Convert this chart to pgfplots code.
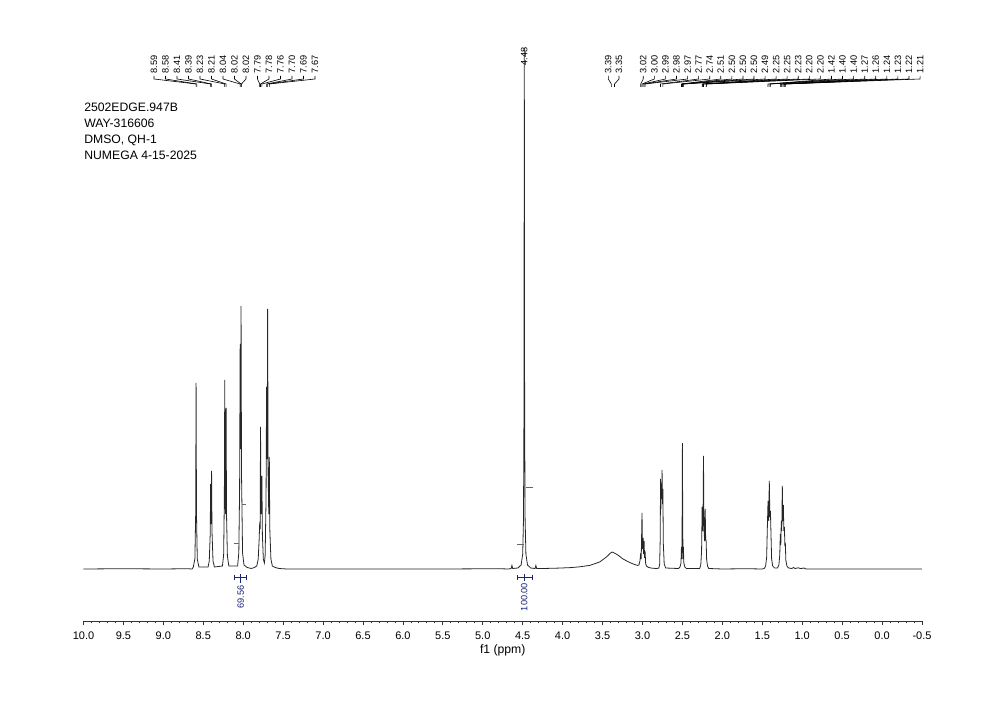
\documentclass[border=0pt]{standalone}
\usepackage{fontspec}
\setmainfont{Liberation Sans}
\usepackage{pgfplots}
\pgfplotsset{compat=1.18}
\definecolor{intblue}{RGB}{25,35,115}
\newcommand\lab{\fontsize{4.6}{5}\selectfont}
\newcommand\hdr{\fontsize{6.1}{7}\selectfont}
% label position (ppm), target peak (ppm), text
\newcommand{\plab}[3]{%
  \node[rotate=90,anchor=west,inner sep=0pt,font=\lab] at (axis cs:#1,495) {#3};
  \draw[black,line width=0.3pt] (axis cs:#1,493) -- (axis cs:#1,490) -- (axis cs:#2,485) -- (axis cs:#2,482);
}
\begin{document}
\begin{tikzpicture}
\begin{axis}[
  scale only axis, width=419.25pt, height=291pt,
  xmin=-0.5, xmax=10, x dir=reverse, ymin=-52, ymax=530,
  axis x line*=bottom, hide y axis,
  xtick={-0.5,0,0.5,1,1.5,2,2.5,3,3.5,4,4.5,5,5.5,6,6.5,7,7.5,8,8.5,9,9.5,10},
  minor x tick num=4, tick align=outside,
  major tick length=2pt, minor tick length=1pt,
  axis line style={black!80,line width=0.4pt},
  tick style={black!80,line width=0.4pt},
  xticklabel style={font=\fontsize{5.5}{6}\selectfont,
    /pgf/number format/fixed, /pgf/number format/fixed zerofill,
    /pgf/number format/precision=1, /pgf/number format/assume math mode=true},
  xlabel={f1 (ppm)},
  xlabel style={font=\fontsize{6.1}{7}\selectfont, at={(axis description cs:0.5,0)}, anchor=center, yshift=-14.5pt},
  clip=false,
]
\addplot[black!85, line width=0.4pt] coordinates {
(10.0,0) (9.5,0.3) (9.0,0) (8.70,0.3) (8.64,0)
(8.625,2) (8.605,10) (8.595,55) (8.590,186) (8.585,55) (8.575,10) (8.555,2)
(8.44,2) (8.425,8) (8.413,35) (8.408,85) (8.403,45) (8.396,98) (8.391,38) (8.378,8) (8.36,2)
(8.26,3) (8.245,14) (8.236,70) (8.231,189) (8.226,65) (8.220,55) (8.214,161) (8.209,55) (8.198,13) (8.18,3)
(8.07,3) (8.055,16) (8.045,80) (8.038,225) (8.033,120) (8.027,263) (8.021,95) (8.008,16) (7.99,4)
(7.95,1.5) (7.90,0.5) (7.86,1.5)
(7.83,3) (7.812,10) (7.800,30) (7.793,47) (7.788,40) (7.783,142) (7.778,60) (7.772,55) (7.766,93) (7.760,35) (7.748,10) (7.735,6)
(7.725,14) (7.714,70) (7.707,182) (7.700,110) (7.694,260) (7.688,95) (7.680,55) (7.673,112) (7.667,40) (7.653,10) (7.635,3) (7.60,1.5) (7.55,0.5) (7.45,0)
(6.5,0) (5.5,0) (4.8,0.3) (4.68,0)
(4.645,0.5) (4.635,3.5) (4.625,0.5)
(4.56,1) (4.52,4) (4.50,15) (4.490,50) (4.484,160) (4.480,521) (4.476,160) (4.470,50) (4.46,15) (4.44,4) (4.40,1)
(4.345,0.5) (4.335,3.5) (4.325,0.5)
(4.20,0.6) (4.05,0.9) (3.90,1.4) (3.786,2.2) (3.661,3.6) (3.536,7) (3.452,12) (3.40,16) (3.38,17) (3.34,15.5) (3.30,13.5) (3.244,10) (3.160,6.5) (3.10,4.5) (3.06,3.6)
(3.045,4) (3.032,8) (3.022,16) (3.016,10) (3.006,56) (3.000,20) (2.992,31) (2.986,15) (2.980,28) (2.974,11) (2.968,18) (2.960,5) (2.945,2.5) (2.92,1.5) (2.88,0.8) (2.82,0.5)
(2.795,1) (2.785,5) (2.778,30) (2.774,90) (2.769,60) (2.764,85) (2.760,70) (2.755,99) (2.750,65) (2.745,80) (2.739,25) (2.728,5) (2.71,1)
(2.55,0.5) (2.53,2) (2.518,6) (2.512,22) (2.508,10) (2.504,40) (2.500,126) (2.496,40) (2.492,10) (2.488,22) (2.482,6) (2.47,2) (2.45,0.5)
(2.285,0.5) (2.27,4) (2.26,18) (2.253,62) (2.247,38) (2.242,48) (2.236,113) (2.231,42) (2.222,28) (2.215,60) (2.209,30) (2.203,28) (2.197,10) (2.186,3) (2.17,0.5)
(2.0,0) (1.7,0.3) (1.5,0)
(1.475,0.5) (1.458,3) (1.445,12) (1.437,40) (1.428,68) (1.420,48) (1.412,88) (1.405,52) (1.398,58) (1.391,35) (1.383,10) (1.37,3) (1.345,1)
(1.31,1) (1.292,4) (1.281,14) (1.274,35) (1.268,24) (1.262,48) (1.256,38) (1.249,83) (1.243,48) (1.236,64) (1.230,38) (1.223,42) (1.217,24) (1.211,25) (1.205,9) (1.192,3) (1.17,1)
(1.13,0.5) (1.11,1.5) (1.09,0.5) (1.05,1.2) (1.02,0.4) (0.98,1) (0.95,0)
(0.5,0) (0,0) (-0.5,0)
};
% header
\node[anchor=base west,inner sep=0pt,font=\hdr] at (axis cs:9.994,457.5) {2502EDGE.947B};
\node[anchor=base west,inner sep=0pt,font=\hdr] at (axis cs:9.994,441.5) {WAY-316606};
\node[anchor=base west,inner sep=0pt,font=\hdr] at (axis cs:9.994,425.5) {DMSO, QH-1};
\node[anchor=base west,inner sep=0pt,font=\hdr] at (axis cs:9.994,409.5) {NUMEGA 4-15-2025};
% peak labels left
\plab{9.117}{8.590}{8.59}
\plab{8.973}{8.580}{8.58}
\plab{8.829}{8.408}{8.41}
\plab{8.685}{8.396}{8.39}
\plab{8.541}{8.231}{8.23}
\plab{8.397}{8.214}{8.21}
\plab{8.253}{8.038}{8.04}
\plab{8.109}{8.027}{8.02}
\plab{7.965}{8.022}{8.02}
\plab{7.821}{7.793}{7.79}
\plab{7.677}{7.783}{7.78}
\plab{7.533}{7.766}{7.76}
\plab{7.389}{7.707}{7.70}
\plab{7.245}{7.694}{7.69}
\plab{7.101}{7.673}{7.67}
% peak labels right
\plab{3.428}{3.39}{3.39}
\plab{3.294}{3.35}{3.35}
\plab{2.990}{3.022}{3.02}
\plab{2.851}{3.006}{3.00}
\plab{2.713}{2.992}{2.99}
\plab{2.574}{2.980}{2.98}
\plab{2.435}{2.968}{2.97}
\plab{2.297}{2.774}{2.77}
\plab{2.158}{2.745}{2.74}
\plab{2.020}{2.512}{2.51}
\plab{1.881}{2.504}{2.50}
\plab{1.742}{2.500}{2.50}
\plab{1.604}{2.496}{2.50}
\plab{1.465}{2.488}{2.49}
\plab{1.326}{2.253}{2.25}
\plab{1.188}{2.247}{2.25}
\plab{1.049}{2.236}{2.23}
\plab{0.911}{2.203}{2.20}
\plab{0.772}{2.200}{2.20}
\plab{0.633}{1.428}{1.42}
\plab{0.495}{1.405}{1.40}
\plab{0.356}{1.398}{1.40}
\plab{0.217}{1.274}{1.27}
\plab{0.079}{1.262}{1.26}
\plab{-0.060}{1.243}{1.24}
\plab{-0.198}{1.230}{1.23}
\plab{-0.337}{1.223}{1.22}
\plab{-0.476}{1.211}{1.21}
% 4.48 label
\node[rotate=90,anchor=west,inner sep=0pt,font=\lab] at (axis cs:4.48,503) {4.48};
% integral marks
\draw[black!60,line width=0.4pt] (axis cs:8.115,26) -- (axis cs:8.053,26);
\draw[black!60,line width=0.4pt] (axis cs:8.015,65) -- (axis cs:7.965,65);
\draw[black!60,line width=0.4pt] (axis cs:4.57,25) -- (axis cs:4.485,25);
\draw[black!60,line width=0.4pt] (axis cs:4.46,82) -- (axis cs:4.37,82);
% integration brackets
\draw[intblue,line width=0.4pt] (axis cs:8.104,-8) -- (axis cs:7.954,-8);
\draw[intblue,line width=0.4pt] (axis cs:8.104,-5.5) -- (axis cs:8.104,-10.5);
\draw[intblue,line width=0.4pt] (axis cs:7.954,-5.5) -- (axis cs:7.954,-10.5);
\draw[intblue,line width=0.4pt] (axis cs:8.03,-5) -- (axis cs:8.03,-14);
\node[rotate=90,anchor=east,inner sep=0pt,font=\lab,text=intblue] at (axis cs:8.03,-16) {69.56};
\draw[intblue,line width=0.4pt] (axis cs:4.569,-8) -- (axis cs:4.381,-8);
\draw[intblue,line width=0.4pt] (axis cs:4.569,-5.5) -- (axis cs:4.569,-10.5);
\draw[intblue,line width=0.4pt] (axis cs:4.381,-5.5) -- (axis cs:4.381,-10.5);
\draw[intblue,line width=0.4pt] (axis cs:4.48,-5) -- (axis cs:4.48,-12);
\node[rotate=90,anchor=east,inner sep=0pt,font=\lab,text=intblue] at (axis cs:4.48,-13.5) {100.00};
% bounding box corners
\coordinate (bbsw) at (axis cs:11.0456,-138);
\coordinate (bbne) at (axis cs:-1.4767,569);
\end{axis}
\pgfresetboundingbox
\useasboundingbox (bbsw) rectangle (bbne);
\end{tikzpicture}
\end{document}
